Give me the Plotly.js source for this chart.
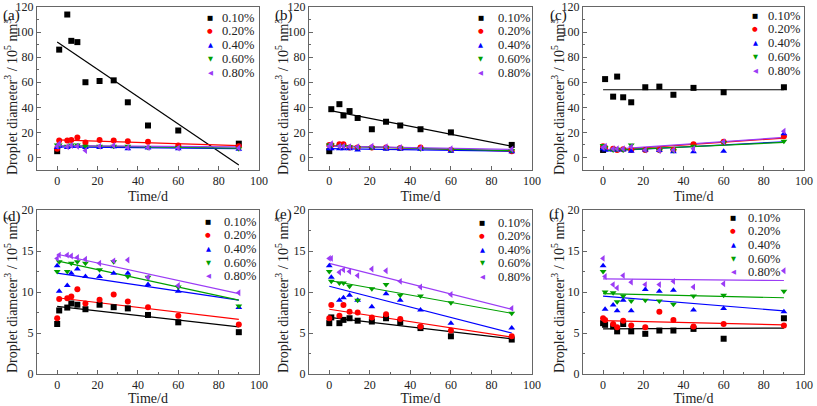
<!DOCTYPE html>
<html><head><meta charset="utf-8">
<script src="https://cdn.plot.ly/plotly-3.0.1.min.js"></script>
<style>
html,body{margin:0;padding:0;background:#fff}
#chart{width:817px;height:406px}
#chart text{font-family:"Liberation Serif","Times New Roman",Times,serif !important}
#chart text.glyph{font-family:"DejaVu Sans",sans-serif !important}
</style>
</head><body><div id="chart"></div>
<script>
// ---------------- data ----------------
const days = [0, 1, 5, 7, 10, 14, 21, 28, 35, 45, 60, 90];
const fitDays = [0, 90];
const concLabels = ['0.10%', '0.20%', '0.40%', '0.60%', '0.80%'];
const panelLabels = ['(a)', '(b)', '(c)', '(d)', '(e)', '(f)'];
const xTickVals = [0, 20, 40, 60, 80, 100];
const yTickTop = [0, 20, 40, 60, 80, 100, 120];
const yTickBottom = [0, 5, 10, 15, 20];

// panel (a)
const a010 = [5, 86, 114, 93, 92, 60, 61, 61.5, 44, 25.5, 21.5, 11];
const a020 = [7, 13.5, 13.5, 14, 16, 12, 14, 13.5, 13, 12.5, 9.5, 9];
const a040 = [8, 9, 8, 9, 9, 8, 8, 8.5, 7, 7.5, 7, 6.5];
const a060 = [10, 10, 9, 10, 10, 9, 9, 9, 9, 8, 8, 7];
const a080 = [9, 11, 8.5, 9.5, 9, 5.5, 9, 9.5, 8, 8, 7.5, 7.5];
const fitA = [[92, -6], [14, 9.5], [8.5, 7], [9.5, 7.5], [9.5, 8.5]];

// panel (b)
const b010 = [5, 38.5, 42.5, 33.5, 37, 31.5, 22.5, 28.5, 25.5, 22.5, 20, 10];
const b020 = [10, 10, 10.5, 10.5, 8, 8, 8, 8, 7.5, 8, 6, 5];
const b040 = [7, 7, 7, 7, 7, 6, 7.5, 6.5, 6.5, 6.5, 5, 4.5];
const b060 = [10, 10, 9, 9, 8.5, 8, 8, 8, 7.5, 7, 6, 5.5];
const b080 = [9, 11, 9, 9, 8.5, 8.5, 9, 8.5, 8, 7.5, 7, 6.5];
const fitB = [[37.5, 9], [9.5, 5], [7, 5], [9, 5.5], [9, 6.5]];

// panel (c)
const c010 = [6, 62.5, 48.5, 64.5, 48, 44, 56, 56.5, 50, 55.5, 52, 56];
const c020 = [9, 8, 7, 6, 6.5, 6, 6, 6, 6, 10.5, 12.5, 17];
const c040 = [7, 6, 6, 6, 6, 5, 6, 5.5, 4.5, 4.5, 5, 19];
const c060 = [9.5, 8, 6, 6.5, 6, 10, 6, 5.5, 5.5, 9, 12, 13];
const c080 = [8, 9, 7, 7, 7, 8.5, 6, 5.5, 6, 7, 12.5, 21];
const fitC = [[54, 54], [5.5, 15.5], [5, 12.5], [5.5, 12], [6, 16]];

// panel (d)
const d010 = [6.1, 7.75, 8.1, 8.6, 8.45, 7.9, 8.45, 8.15, 8.0, 7.2, 6.3, 5.1];
const d020 = [6.8, 9.15, 9.25, 9.45, 10.35, 8.6, 9.05, 9.7, 8.85, 8.15, 7.1, 6.05];
const d040 = [13.2, 10.1, 10.8, 12.3, 12.8, 11.9, 11.9, 12.3, 12.3, 10.9, 10.1, 8.1];
const d060 = [12.5, 13.7, 12.5, 13.5, 13.7, 13.5, 12.7, 13.7, 11.9, 11.8, 10.6, 8.3];
const d080 = [14.1, 14.5, 14.5, 14.4, 14.2, 14.0, 13.5, 13.8, 13.9, 11.8, 10.8, 9.9];
const fitD = [[8.25, 5.75], [9.3, 6.65], [12.3, 9.0], [13.8, 9.0], [14.6, 9.8]];

// panel (e)
const e010 = [6.2, 6.9, 6.2, 6.6, 6.8, 6.5, 6.4, 6.8, 6.3, 5.6, 4.6, 4.2];
const e020 = [6.8, 8.4, 7.1, 8.4, 7.6, 7.5, 6.9, 7.3, 6.7, 5.8, 5.3, 4.6];
const e040 = [13.2, 11.8, 9.0, 9.3, 9.6, 9.0, 8.2, 9.8, 9.0, 7.8, 6.2, 5.6];
const e060 = [12.5, 11.3, 11.1, 11.1, 10.7, 9.0, 10.4, 10.9, 9.6, 9.5, 8.7, 7.4];
const e080 = [14.1, 14.1, 12.4, 12.7, 12.5, 12.0, 12.8, 12.6, 11.3, 10.6, 9.7, 8.0];
const fitE = [[6.9, 4.3], [7.9, 4.5], [10.7, 5.0], [11.4, 7.4], [13.5, 7.9]];

// panel (f)
const f010 = [6.2, 6.0, 5.8, 5.2, 6.1, 5.2, 4.9, 5.3, 5.3, 5.5, 4.3, 6.8];
const f020 = [6.8, 6.6, 6.1, 5.7, 6.5, 5.9, 5.7, 7.6, 6.6, 5.8, 6.1, 5.9];
const f040 = [13.2, 7.9, 8.4, 7.7, 9.0, 7.7, 10.3, 10.1, 10.2, 7.8, 8.0, 7.6];
const f060 = [12.5, 10.0, 9.9, 8.8, 9.5, 8.9, 9.0, 8.9, 8.5, 9.5, 9.6, 10.1];
const f080 = [14.1, 11.9, 10.9, 10.5, 12.0, 11.2, 10.9, 10.9, 11.3, 10.6, 11.0, 12.6];
const fitF = [[5.5, 5.6], [6.5, 6.0], [9.5, 7.7], [9.8, 9.3], [11.6, 11.4]];

// ---------------- styling ----------------
const W = 817, H = 406;
const px = x => x / W;
const py = y => 1 - y / H;
const colors = ['#000000', '#ff0000', '#0000ff', '#00a000', '#9b3cf5'];
const symbols = ['square', 'circle', 'triangle-up', 'triangle-down', 'triangle-left'];
const glyphs = ['\u25A0', '\u25CF', '\u25B2', '\u25BC', '\u25C0'];
const serif = '"Liberation Serif", "Times New Roman", Times, serif';

const panels = [
  [a010, a020, a040, a060, a080],
  [b010, b020, b040, b060, b080],
  [c010, c020, c040, c060, c080],
  [d010, d020, d040, d060, d080],
  [e010, e020, e040, e060, e080],
  [f010, f020, f040, f060, f080]
];
const fits = [fitA, fitB, fitC, fitD, fitE, fitF];

const cols = [[37, 259], [309, 532], [583, 804]];
const rows = [[7, 170], [210, 374]];
// legend placement per panel: [symbol x, text x, first row y, row step]
const legendPos = [
  [210, 220, 17.5, 13.8], [481, 496, 17.5, 13.8], [755, 766, 15.5, 13.8],
  [208, 222, 221.5, 13.7], [482, 496, 222.5, 13.6], [733, 746, 217.5, 13.7]
];
const panelLabelPos = [[1, 15], [273, 15], [548, 15], [1, 216], [273, 215], [547, 215]];
const yTitleX = [11, 282, 558, 11, 282, 558];
const yTitleY = [97, 295];

const traces = [];
const layout = {
  width: W, height: H,
  margin: {l: 0, r: 0, t: 0, b: 0},
  paper_bgcolor: '#ffffff', plot_bgcolor: '#ffffff',
  showlegend: false,
  font: {family: serif, color: '#222'},
  annotations: []
};

panels.forEach((series, p) => {
  const c = cols[p % 3], r = rows[Math.floor(p / 3)];
  const top = p < 3;
  const xa = 'xaxis' + (p + 1), ya = 'yaxis' + (p + 1);
  const xs = 'x' + (p + 1), ys = 'y' + (p + 1);
  const common = {
    showgrid: false, zeroline: false, showline: true, mirror: true,
    linecolor: '#666', linewidth: 1,
    ticks: 'inside', ticklen: 4, tickwidth: 1, tickcolor: '#666',
    tickfont: {family: serif, size: 12, color: '#222'},
    fixedrange: true
  };
  layout[xa] = Object.assign({}, common, {
    domain: [px(c[0]), px(c[1])], anchor: ys, range: [-10, 100],
    tickmode: 'array', tickvals: xTickVals,
    minor: {dtick: 10, tick0: 0, ticks: 'inside', ticklen: 2, tickcolor: '#666'},
    title: {text: 'Time/d', font: {family: serif, size: 14, color: '#222'}, standoff: 3}
  });
  layout[ya] = Object.assign({}, common, {
    domain: [py(r[1]), py(r[0])], anchor: xs,
    range: top ? [-10, 120] : [0, 20],
    tickmode: 'array', tickvals: top ? yTickTop : yTickBottom,
    minor: {dtick: top ? 10 : 2.5, tick0: 0, ticks: 'inside', ticklen: 2, tickcolor: '#666'}
  });

  // fit lines
  fits[p].forEach((f, k) => {
    traces.push({
      x: fitDays, y: f, xaxis: xs, yaxis: ys, mode: 'lines',
      line: {color: colors[k], width: 1.2}, hoverinfo: 'skip'
    });
  });
  // data points
  series.forEach((vals, k) => {
    traces.push({
      x: days, y: vals, xaxis: xs, yaxis: ys, mode: 'markers', name: concLabels[k],
      marker: {symbol: symbols[k], color: colors[k], size: 6, line: {width: 0}},
      cliponaxis: true
    });
  });

  // legend (annotations)
  const lp = legendPos[p];
  concLabels.forEach((lab, k) => {
    const yy = lp[2] + k * lp[3];
    layout.annotations.push({
      xref: 'paper', yref: 'paper', x: px(lp[0]), y: py(yy),
      xanchor: 'center', yanchor: 'middle', showarrow: false,
      text: glyphs[k], font: {family: 'DejaVu Sans', size: 6.5, color: colors[k]}
    });
    layout.annotations.push({
      xref: 'paper', yref: 'paper', x: px(lp[1]), y: py(yy),
      xanchor: 'left', yanchor: 'middle', showarrow: false,
      text: lab, font: {family: serif, size: 12.5, color: '#222'}
    });
  });

  // panel label
  layout.annotations.push({
    xref: 'paper', yref: 'paper', x: px(panelLabelPos[p][0]), y: py(panelLabelPos[p][1]),
    xanchor: 'left', yanchor: 'middle', showarrow: false,
    text: panelLabels[p], font: {family: serif, size: 15, color: '#111'}
  });
  // y title
  layout.annotations.push({
    xref: 'paper', yref: 'paper', x: px(yTitleX[p]), y: py(yTitleY[top ? 0 : 1]),
    xanchor: 'center', yanchor: 'middle', showarrow: false, textangle: -90,
    text: 'Droplet diameter<sup>3</sup> / 10<sup>5</sup> nm<sup>3</sup>',
    font: {family: serif, size: 14, color: '#222'}
  });
});

Plotly.newPlot('chart', traces, layout, {staticPlot: true, displayModeBar: false}).then(() => {
  // keep the legend symbol glyphs in a font that has them
  document.querySelectorAll('#chart .annotation-text').forEach(t => {
    if (/^[\u25A0\u25CF\u25B2\u25BC\u25C0]$/.test(t.textContent)) t.classList.add('glyph');
  });
});
</script>
</body></html>
